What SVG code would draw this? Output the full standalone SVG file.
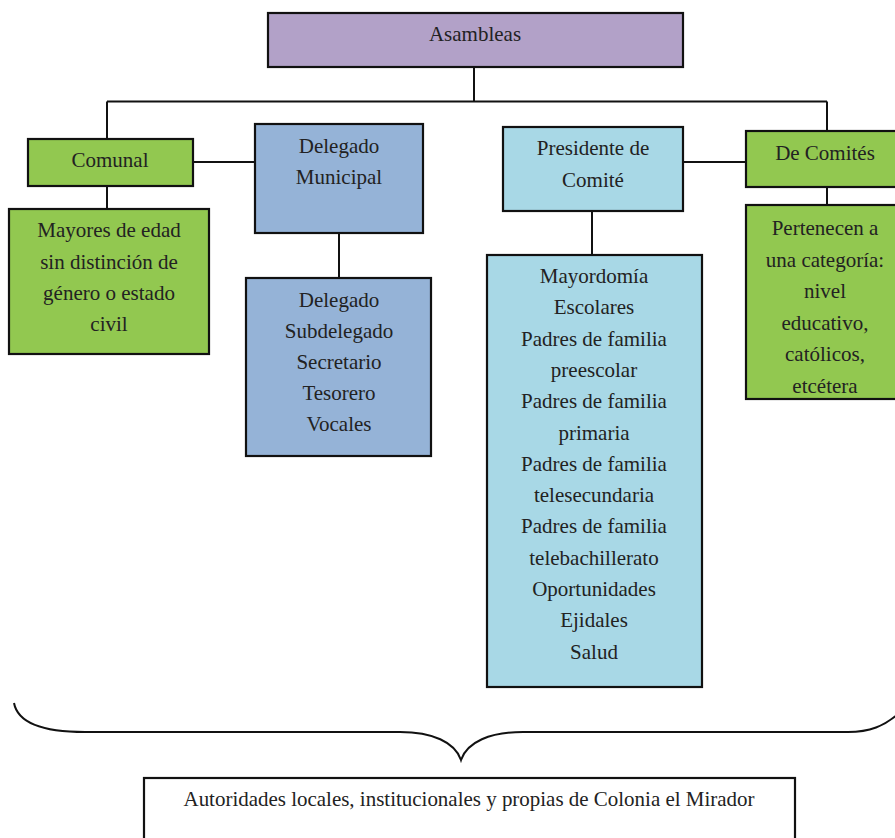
<svg xmlns="http://www.w3.org/2000/svg" width="895" height="838" viewBox="0 0 895 838">
<style>
  .box { stroke: #111; stroke-width: 2.2; }
  .purple { fill: #b2a1c8; }
  .green { fill: #92c850; }
  .blue { fill: #95b3d7; }
  .cyan { fill: #a8d8e6; }
  .white { fill: #ffffff; }
  text { font-family: 'Liberation Serif', 'Times New Roman', serif; font-size: 21px; fill: #222222; text-anchor: middle; }
  .conn { stroke: #111; stroke-width: 2; fill: none; }
</style>
<rect width="895" height="838" fill="#ffffff"/>
<g id="connectors">
  <path class="conn" d="M474,67 V101.5 M107,101.5 H827 M107,101.5 V139 M827,101.5 V131"/>
  <path class="conn" d="M193,162 H255"/>
  <path class="conn" d="M107,186 V209"/>
  <path class="conn" d="M339,233 V278"/>
  <path class="conn" d="M683,162 H746"/>
  <path class="conn" d="M592,211 V255"/>
  <path class="conn" d="M827,187 V205"/>
</g>
<g id="asambleas">
  <rect class="box purple" x="268" y="13" width="415" height="54"/>
  <text x="475" y="41">Asambleas</text>
</g>
<g id="comunal">
  <rect class="box green" x="28" y="139" width="165" height="47"/>
  <text x="110" y="167">Comunal</text>
</g>
<g id="mayores">
  <rect class="box green" x="9" y="209" width="200" height="145"/>
  <text x="109" y="237">Mayores de edad</text>
  <text x="109" y="268.5">sin distinción de</text>
  <text x="109" y="300">género o estado</text>
  <text x="109" y="331">civil</text>
</g>
<g id="delegado-municipal">
  <rect class="box blue" x="255" y="124" width="168" height="109"/>
  <text x="339" y="153">Delegado</text>
  <text x="339" y="184">Municipal</text>
</g>
<g id="delegado-lista">
  <rect class="box blue" x="246" y="278" width="185" height="178"/>
  <text x="339" y="307">Delegado</text>
  <text x="339" y="338">Subdelegado</text>
  <text x="339" y="369">Secretario</text>
  <text x="339" y="400">Tesorero</text>
  <text x="339" y="431">Vocales</text>
</g>
<g id="presidente">
  <rect class="box cyan" x="503" y="127" width="180" height="84"/>
  <text x="593" y="155">Presidente de</text>
  <text x="593" y="187">Comité</text>
</g>
<g id="comites-lista">
  <rect class="box cyan" x="487" y="255" width="215" height="432"/>
  <text x="594" y="283">Mayordomía</text>
  <text x="594" y="314.3">Escolares</text>
  <text x="594" y="345.6">Padres de familia</text>
  <text x="594" y="376.9">preescolar</text>
  <text x="594" y="408.2">Padres de familia</text>
  <text x="594" y="439.5">primaria</text>
  <text x="594" y="470.8">Padres de familia</text>
  <text x="594" y="502.1">telesecundaria</text>
  <text x="594" y="533.4">Padres de familia</text>
  <text x="594" y="564.7">telebachillerato</text>
  <text x="594" y="596">Oportunidades</text>
  <text x="594" y="627.3">Ejidales</text>
  <text x="594" y="658.6">Salud</text>
</g>
<g id="de-comites">
  <rect class="box green" x="746" y="131" width="160" height="56"/>
  <text x="825" y="160">De Comités</text>
</g>
<g id="pertenecen">
  <rect class="box green" x="746" y="205" width="160" height="194"/>
  <text x="825" y="235">Pertenecen a</text>
  <text x="825" y="266.5">una categoría:</text>
  <text x="825" y="298">nivel</text>
  <text x="825" y="329.5">educativo,</text>
  <text x="825" y="361">católicos,</text>
  <text x="825" y="392.5">etcétera</text>
</g>
<g id="brace">
  <path class="conn" d="M14,703 C18,724 45,732 85,732 L400,732 C432,732 455,742 461,760 C467,742 490,732 523,732 L848,732 C870,732 884,726 898,714"/>
</g>
<g id="autoridades">
  <rect class="box white" x="144" y="778" width="651" height="80"/>
  <text x="469" y="806" textLength="571" lengthAdjust="spacingAndGlyphs">Autoridades locales, institucionales y propias de Colonia el Mirador</text>
</g>
</svg>
